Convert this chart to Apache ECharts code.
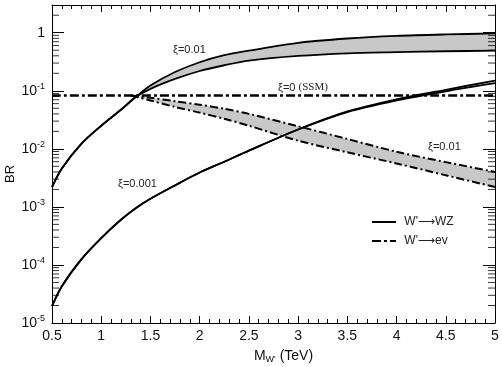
<!DOCTYPE html>
<html>
<head>
<meta charset="utf-8">
<script src="https://cdn.jsdelivr.net/npm/echarts@6/dist/echarts.min.js"></script>
<style>
  html, body { margin: 0; padding: 0; background: #fff; }
  #main { width: 502px; height: 367px; }
</style>
</head>
<body>
<div id="main"></div>
<script>
// W' mass grid (TeV) and branching ratios
var massWZ = [0.5, 0.6, 0.8, 1.0, 1.2, 1.35, 1.5, 1.75, 2.0, 2.25, 2.5, 3.0, 3.5, 4.0, 4.5, 5.0];
var wzHigh001 = [0.0022, 0.0046, 0.0123, 0.025, 0.047, 0.078, 0.123, 0.21, 0.31, 0.41, 0.49, 0.668, 0.794, 0.881, 0.933, 0.97];
var wzLow001 = [0.0022, 0.0046, 0.0123, 0.025, 0.047, 0.078, 0.108, 0.16, 0.219, 0.275, 0.331, 0.398, 0.442, 0.462, 0.479, 0.49];
var wzHigh0001 = [1.95e-5, 4.3e-5, 1.26e-4, 2.9e-4, 6.0e-4, 9.5e-4, 1.38e-3, 2.35e-3, 3.9e-3, 6.0e-3, 9.3e-3, 0.0215, 0.044, 0.071, 0.104, 0.15];
var wzLow0001 = [1.95e-5, 4.3e-5, 1.26e-4, 2.9e-4, 6.0e-4, 9.5e-4, 1.38e-3, 2.35e-3, 3.9e-3, 6.0e-3, 9.3e-3, 0.0215, 0.043, 0.068, 0.098, 0.135];

var massEv = [1.3, 1.5, 1.75, 2.0, 2.25, 2.5, 3.0, 3.5, 4.0, 4.5, 5.0];
var evHigh = [0.083, 0.076, 0.066, 0.0575, 0.049, 0.040, 0.0245, 0.0148, 0.0089, 0.0059, 0.004];
var evLow = [0.083, 0.068, 0.0525, 0.042, 0.033, 0.025, 0.0138, 0.0087, 0.0056, 0.0035, 0.0022];

var massSSM = [0.5, 5.0];
var evSSM = [0.083, 0.083];

var xTicks = [0.5, 1, 1.5, 2, 2.5, 3, 3.5, 4, 4.5, 5];
var decades = [-5, -4, -3, -2, -1, 0];
var minorSteps = [2, 3, 4, 5, 6, 7, 8, 9];

var nameWZ = "W'\u27F6WZ";
var nameEv = "W'\u27F6ev";

var FONT = 'Liberation Sans';
var GRAY = '#c8c8c8';
var DASHDOT = [8, 3, 2, 3];

function pairs(xs, ys) {
    return xs.map(function (x, i) { return [x, ys[i]]; });
}

// minor log ticks 2..9 in each decade
var minorTicks = [];
decades.forEach(function (d) {
    if (d >= 0) return;
    minorSteps.forEach(function (k) { minorTicks.push(k * Math.pow(10, d)); });
});
minorTicks.push(2);

var myChart = echarts.init(document.getElementById('main'));

function lineSeries(name, data, dash, width) {
    return {
        name: name,
        type: 'line',
        data: data,
        symbol: 'none',
        smooth: 0.3,
        silent: true,
        z: 5,
        itemStyle: { color: '#000' },
        lineStyle: { color: '#000', width: width || 1.8, type: dash || 'solid' }
    };
}

// gray band between two curves
function band(xs, hi, lo) {
    return {
        type: 'custom',
        silent: true,
        z: 2,
        data: [[xs[0], lo[0]]],
        renderItem: function (params, api) {
            var pts = [];
            for (var i = 0; i < xs.length; i++) pts.push(api.coord([xs[i], hi[i]]));
            for (var j = xs.length - 1; j >= 0; j--) pts.push(api.coord([xs[j], lo[j]]));
            return { type: 'polygon', shape: { points: pts }, style: { fill: GRAY } };
        }
    };
}

function yLabel(v) {
    if (v > 1.5) return '';
    var e = Math.round(Math.log(v) / Math.LN10);
    if (e === 0) return '{b|1}';
    return '{b|10}{s|' + e + '}';
}

var yLabelRich = {
    b: { fontSize: 14, lineHeight: 18, fontFamily: FONT, color: '#111' },
    s: { fontSize: 9, lineHeight: 10, verticalAlign: 'top', fontFamily: FONT, color: '#111' }
};

var option = {
    animation: false,
    backgroundColor: '#fff',
    grid: { left: 52, right: 7, top: 5, bottom: 44, outerBoundsMode: 'none' },
    legend: {
        data: [nameWZ, nameEv],
        orient: 'vertical',
        left: 371,
        top: 216,
        itemWidth: 24,
        itemHeight: 12,
        itemGap: 7,
        padding: 0,
        selectedMode: false,
        itemStyle: { opacity: 0 },
        formatter: function (name) { return ' ' + name; },
        textStyle: { fontSize: 12, color: '#222', fontFamily: FONT }
    },
    xAxis: [{
        type: 'value',
        position: 'bottom',
        min: 0.5,
        max: 5,
        interval: 0.5,
        axisLine: { lineStyle: { color: '#000', width: 1 } },
        axisTick: { inside: true, length: 7, lineStyle: { color: '#000' } },
        minorTick: { show: true, splitNumber: 5, length: 4, lineStyle: { color: '#000' } },
        splitLine: { show: false },
        axisLabel: { fontSize: 14, margin: 6, color: '#111', fontFamily: FONT },
        name: "{m|M}{w|W'}{m| (TeV)}",
        nameLocation: 'middle',
        nameGap: 25,
        nameTextStyle: {
            padding: [0, 0, 0, 20],
            rich: {
                m: { fontSize: 14, lineHeight: 16, fontFamily: FONT, color: '#111' },
                w: { fontSize: 9, lineHeight: 16, verticalAlign: 'bottom', fontFamily: FONT, color: '#111' }
            }
        }
    }, {
        type: 'value',
        position: 'top',
        min: 0.5,
        max: 5,
        interval: 0.5,
        axisLine: { lineStyle: { color: '#000', width: 1 } },
        axisTick: { inside: true, length: 7, lineStyle: { color: '#000' } },
        minorTick: { show: true, splitNumber: 5, length: 4, lineStyle: { color: '#000' } },
        splitLine: { show: false },
        axisLabel: { show: false }
    }],
    yAxis: [{
        type: 'log',
        position: 'left',
        min: 1e-5,
        max: 3,
        axisLine: { show: true, lineStyle: { color: '#000', width: 1 } },
        axisTick: { show: true, inside: true, length: 12, lineStyle: { color: '#000' } },
        splitLine: { show: false },
        axisLabel: { formatter: yLabel, rich: yLabelRich, margin: 7 },
        name: 'BR',
        nameLocation: 'middle',
        nameGap: 35,
        nameMoveOverlap: false,
        nameTextStyle: { fontSize: 13, color: '#111', fontFamily: FONT, padding: [0, 20, 0, 0] }
    }, {
        type: 'log',
        position: 'right',
        min: 1e-5,
        max: 3,
        axisLine: { show: true, lineStyle: { color: '#000', width: 1 } },
        axisTick: { show: true, inside: true, length: 12, lineStyle: { color: '#000' } },
        splitLine: { show: false },
        axisLabel: { show: false }
    }],
    graphic: [
        { type: 'text', left: 173, top: 44, silent: true, z: 100,
          style: { text: '\u03BE=0.01', fontSize: 11, fill: '#222', fontFamily: FONT } },
        { type: 'text', left: 278, top: 82, silent: true, z: 100,
          style: { text: '\u03BE=0 {s|(SSM)}', fontSize: 11, fill: '#222', fontFamily: FONT,
                   rich: { s: { fontSize: 11, fontFamily: 'Liberation Serif', fill: '#222' } } } },
        { type: 'text', left: 428, top: 141, silent: true, z: 100,
          style: { text: '\u03BE=0.01', fontSize: 11, fill: '#222', fontFamily: FONT } },
        { type: 'text', left: 118, top: 178, silent: true, z: 100,
          style: { text: '\u03BE=0.001', fontSize: 11, fill: '#222', fontFamily: FONT } }
    ],
    series: [
        band(massWZ, wzHigh001, wzLow001),
        band(massEv, evHigh, evLow),
        lineSeries(nameWZ, pairs(massWZ, wzHigh001)),
        lineSeries(nameWZ, pairs(massWZ, wzLow001)),
        lineSeries(nameWZ, pairs(massWZ, wzHigh0001)),
        lineSeries(nameWZ, pairs(massWZ, wzLow0001)),
        lineSeries(nameEv, pairs(massSSM, evSSM), [9, 3, 3, 3], 2.4),
        lineSeries(nameEv, pairs(massEv, evHigh), DASHDOT, 2),
        lineSeries(nameEv, pairs(massEv, evLow), DASHDOT, 2),
        {
            type: 'scatter',
            silent: true,
            clip: false,
            z: 6,
            symbol: 'rect',
            symbolSize: [7, 1],
            symbolOffset: [3.5, 0],
            itemStyle: { color: '#000' },
            data: minorTicks.map(function (v) { return [xTicks[0], v]; })
        },
        {
            type: 'scatter',
            silent: true,
            clip: false,
            z: 6,
            symbol: 'rect',
            symbolSize: [7, 1],
            symbolOffset: [-3.5, 0],
            itemStyle: { color: '#000' },
            data: minorTicks.map(function (v) { return [xTicks[xTicks.length - 1], v]; })
        }
    ]
};

myChart.setOption(option);
</script>
</body>
</html>
